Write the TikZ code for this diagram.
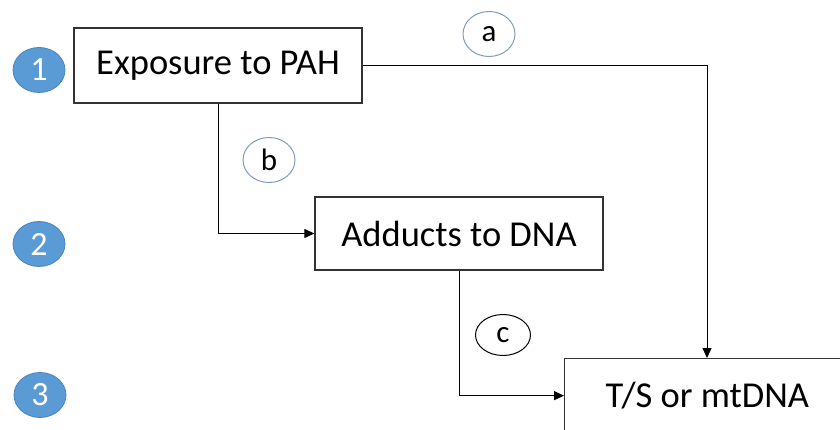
\documentclass[tikz,border=0pt]{standalone}
\usepackage{fontspec}
\setmainfont{Carlito}
\usetikzlibrary{shapes.geometric,arrows.meta,calc}
\definecolor{numblue}{HTML}{5B9BD5}
\definecolor{numedge}{HTML}{4A84BC}
\definecolor{lettedge}{HTML}{7C9CC4}
\definecolor{boxedge}{HTML}{333333}
\begin{document}
\begin{tikzpicture}[x=1pt,y=-1pt,
  stepbox/.style={draw=boxedge, line width=1.3pt, fill=white, inner sep=0pt,
    font=\fontsize{36.5}{40}\selectfont},
  numcirc/.style={ellipse, fill=numblue, draw=numedge, line width=0.8pt, text=white,
    minimum width=52pt, minimum height=45pt, inner sep=0pt,
    font=\fontsize{34}{38}\selectfont},
  letcirc/.style={ellipse, draw=lettedge, line width=1pt, fill=white,
    minimum width=52pt, minimum height=45pt, inner sep=0pt,
    font=\fontsize{31}{34}\selectfont},
  conn/.style={draw=black, line width=1pt, -{Triangle[length=10pt,width=9pt]}}]
\useasboundingbox (0,0) rectangle (840,430);
\clip (0,0) rectangle (840,430);
% boxes
\node[stepbox, minimum width=288pt, minimum height=75pt] (box1) at (218,65.5) {Exposure to PAH};
\node[stepbox, minimum width=288pt, minimum height=73pt] (box2) at (459,233.5) {Adducts to DNA};
\node[stepbox, anchor=north west, minimum height=74pt, inner xsep=41pt]
  (box3) at (564,358) {\makebox[240pt][l]{T/S or mtDNA}};
% level markers
\node[numcirc] (n1) at (39,70) {1};
\node[numcirc] (n2) at (39,244) {2};
\node[numcirc] (n3) at (40,395) {3};
% connectors
\coordinate (a3) at ($(box3.north west)+(143,0)$);
\draw[conn] (box1.east) -| (a3);
\draw[conn] (box1.south) |- (box2.west);
\draw[conn] (box2.south) |- (box3.west);
% path labels
\node[letcirc] (la) at (489,34) {a};
\node[letcirc] (lb) at (269,160) {b};
\node[letcirc, draw=black, minimum width=55pt, minimum height=41pt] (lc) at (503,335) {c};
\end{tikzpicture}
\end{document}
